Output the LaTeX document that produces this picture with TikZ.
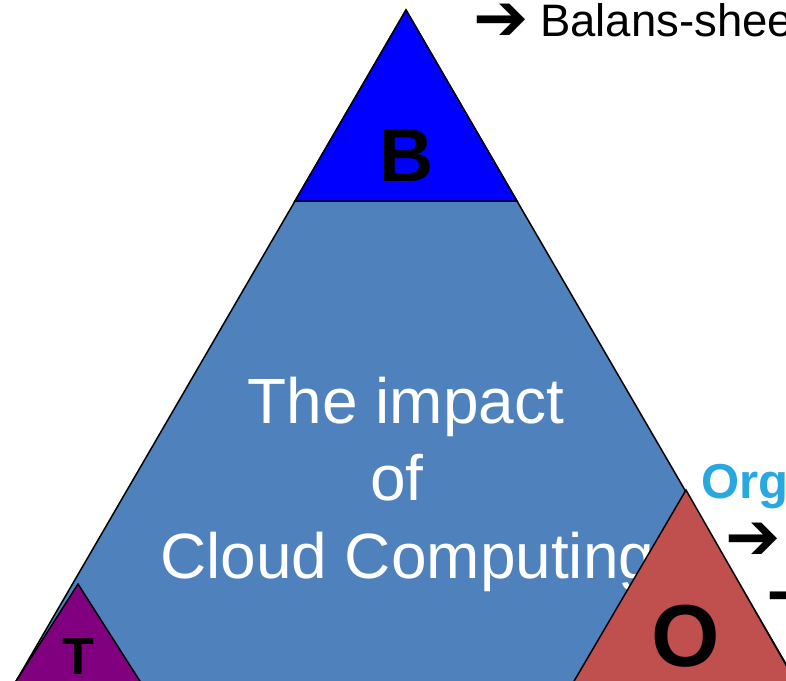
\documentclass[tikz,border=0pt]{standalone}
\usepackage{fontspec}
\setmainfont{Liberation Sans}
\newfontfamily\symfont{DejaVu Sans}
\definecolor{bigblue}{HTML}{4F81BD}
\definecolor{bpure}{HTML}{0000FF}
\definecolor{ored}{HTML}{C0504D}
\definecolor{tpurple}{HTML}{800080}
\definecolor{orgcyan}{HTML}{29A8E0}
\tikzset{
  tri/.style={draw=black, line width=1.5pt, line join=miter},
  lbl/.style={inner sep=0pt, outer sep=0pt},
  wtext/.style={lbl, text=white, font=\fontsize{64}{77}\selectfont},
  arrowsym/.style={lbl, font=\symfont\fontsize{66}{66}\selectfont}
}
\begin{document}
\begin{tikzpicture}[x=1pt,y=-1pt]
\useasboundingbox (0,0) rectangle (786,680);
\clip (0,0) rectangle (786,680);
\fill[white] (0,0) rectangle (786,680);
% big triangle
\draw[tri, fill=bigblue] (406,10) -- (865,800) -- (-53,800) -- cycle;
% B triangle
\draw[tri, fill=bpure] (406,10) -- (517,201) -- (295,201) -- cycle;
\node[lbl, anchor=base, font=\bfseries\fontsize{75}{75}\selectfont] (B) at (407,181) {B};
% central text
\node[wtext, anchor=base] (l1) at (406,423) {The impact};
\node[wtext, anchor=base] (l2) at (397,500) {of};
\node[wtext, anchor=base west] (l3) at (160,578) {Cloud Computing};
% T triangle
\draw[tri, fill=tpurple] (78,584) -- (152,700) -- (4,700) -- cycle;
\node[lbl, anchor=base, font=\bfseries\fontsize{52}{52}\selectfont] (T) at (78,674) {T};
% O triangle
\draw[tri, fill=ored] (686,490) -- (806,700) -- (563,700) -- cycle;
\node[lbl, anchor=base, font=\bfseries\fontsize{88}{88}\selectfont] (O) at (685.5,666) {O};
% right-hand texts
\node[arrowsym] (a1) at (501,22) {➔};
\node[lbl, anchor=base west, font=\fontsize{45.5}{45.5}\selectfont] (bal) at (540,36) {Balans-sheet};
\node[lbl, anchor=base west, text=orgcyan, font=\bfseries\fontsize{49}{49}\selectfont] (org) at (701,498) {Organisation};
\node[arrowsym] (a2) at (753,541) {➔};
\node[arrowsym] (a3) at (794,598) {➔};
\end{tikzpicture}
\end{document}
